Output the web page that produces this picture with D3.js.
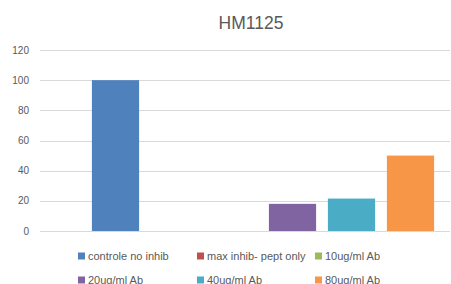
<!DOCTYPE html>
<html lang="en">
<head>
    <meta charset="utf-8">
    <title>HM1125</title>
    <script type="text/javascript" src="https://cdn.jsdelivr.net/npm/d3@7"></script>
    <style type="text/css">
        body { margin: 0; background: #fff; }
        svg { font-family: "Liberation Sans", sans-serif; }
    </style>
</head>
<body>
<script type="text/javascript">

    var series = ["controle no inhib", "max inhib- pept only", "10ug/ml Ab",
                  "20ug/ml Ab", "40ug/ml Ab", "80ug/ml Ab"];
    var values = [100, 0, 0, 18, 21.5, 50];
    var colors = ["#4f81bd", "#c0504d", "#9bbb59", "#8064a2", "#4bacc6", "#f79646"];
    var ticks = [0, 20, 40, 60, 80, 100, 120];

    var width = 451, height = 284;
    var plotLeft = 40, plotRight = 450, plotTop = 50, plotBottom = 231;

    var svg = d3.select("body")
        .append("svg")
        .attr("width", width)
        .attr("height", height);

    var x = d3.scaleBand()
        .domain(series)
        .range([86, 440])
        .paddingInner(0.2)
        .paddingOuter(0.1);

    var y = d3.scaleLinear()
        .domain([0, 120])
        .range([plotBottom, plotTop]);

    svg.append("text")
        .attr("x", 251)
        .attr("y", 29)
        .attr("text-anchor", "middle")
        .attr("font-size", 17.5)
        .attr("fill", "#595959")
        .text("HM1125");

    svg.selectAll(".grid")
        .data(ticks)
        .enter()
        .append("line")
        .attr("x1", plotLeft)
        .attr("x2", plotRight)
        .attr("y1", function(d) { return Math.round(y(d)) + 0.5; })
        .attr("y2", function(d) { return Math.round(y(d)) + 0.5; })
        .attr("stroke", "#d9d9d9")
        .attr("stroke-width", 1);

    svg.selectAll(".tick")
        .data(ticks)
        .enter()
        .append("text")
        .attr("x", 29)
        .attr("y", function(d) { return y(d) + 3.5; })
        .attr("text-anchor", "end")
        .attr("font-size", 10)
        .attr("fill", "#595959")
        .text(function(d) { return d; });

    svg.selectAll(".bar")
        .data(series)
        .enter()
        .append("rect")
        .attr("x", function(d) { return x(d); })
        .attr("width", x.bandwidth())
        .attr("y", function(d, i) { return y(values[i]); })
        .attr("height", function(d, i) { return y(0) - y(values[i]); })
        .attr("fill", function(d, i) { return colors[i]; });

    var legendX = [78, 197, 315];
    var legendY = [256.5, 280.5];

    var item = svg.selectAll(".legend")
        .data(series)
        .enter()
        .append("g")
        .attr("transform", function(d, i) {
            return "translate(" + legendX[i % 3] + "," + legendY[Math.floor(i / 3)] + ")";
        });

    item.append("rect")
        .attr("x", 0)
        .attr("y", -4)
        .attr("width", 7)
        .attr("height", 7)
        .attr("fill", function(d, i) { return colors[i]; });

    item.append("text")
        .attr("x", 10)
        .attr("y", 3.5)
        .attr("font-size", 11)
        .attr("fill", "#595959")
        .text(function(d) { return d; });

</script>
</body>
</html>
